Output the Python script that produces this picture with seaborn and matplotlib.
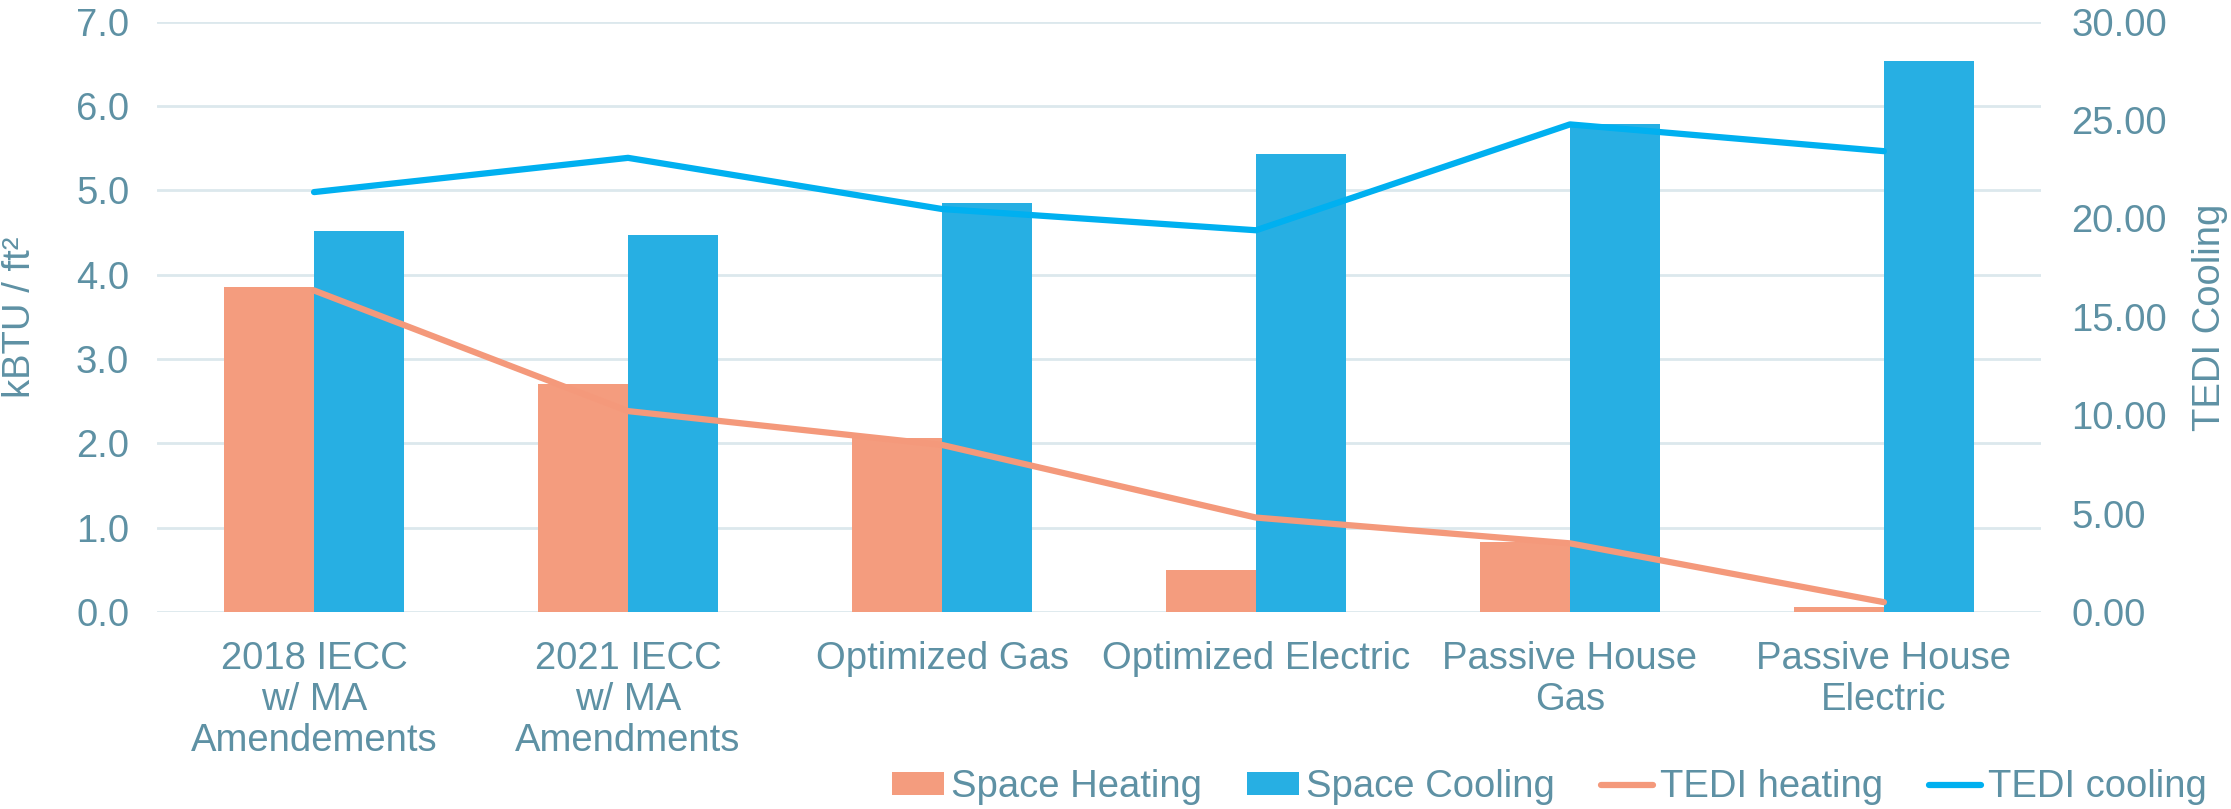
import numpy as np
import pandas as pd
import seaborn as sns
import matplotlib.pyplot as plt

# data
scenarios = ["2018 IECC\nw/ MA\nAmendements", "2021 IECC\nw/ MA\nAmendments",
             "Optimized Gas", "Optimized Electric", "Passive House\nGas", "Passive House\nElectric"]
space_heating = [3.85, 2.70, 2.06, 0.50, 0.83, 0.06]
space_cooling = [4.52, 4.47, 4.85, 5.43, 5.79, 6.53]
tedi_heating = [16.34, 10.21, 8.49, 4.80, 3.49, 0.50]
tedi_cooling = [21.34, 23.08, 20.48, 19.40, 24.78, 23.42]

txt = "#5E91A4"
grid_c = "#DCE8ED"
c_heat = "#F49C7E"
c_cool = "#27AFE3"
c_heat_line = "#F4997B"
c_cool_line = "#00B0F0"
fs = 27.5

sns.set_theme(style="white")
plt.rcParams['font.family'] = ['Liberation Sans', 'DejaVu Sans']

df = pd.DataFrame({
    "scenario": scenarios * 2,
    "value": space_heating + space_cooling,
    "type": ["Space Heating"] * 6 + ["Space Cooling"] * 6,
})

fig = plt.figure(figsize=(22.31, 8.09), dpi=100)
ax = fig.add_axes([0.0704, 0.2435, 0.8444, 0.7297])

sns.barplot(data=df, x="scenario", y="value", hue="type", width=0.575,
            palette=[c_heat, c_cool], saturation=1, linewidth=0, ax=ax, zorder=2)
ax.set_xlim(-0.5, 5.5)
ax.set_ylim(0, 7)
ax.set_yticks(np.arange(0, 8, 1))
ax.set_yticklabels([f"{v:.1f}" for v in range(8)])
ax.yaxis.grid(True, color=grid_c, linewidth=2)
ax.set_axisbelow(True)
for s in ax.spines.values():
    s.set_visible(False)
ax.tick_params(axis='y', length=0, pad=20, labelsize=fs, labelcolor=txt)
ax.tick_params(axis='x', length=0, pad=21, labelsize=fs, labelcolor=txt)
for lab in ax.get_xticklabels():
    lab.set_linespacing(1.17)
ax.set_xlabel("")
ax.set_ylabel("")
fig.text(0.009, 0.608, "kBTU / ft²", rotation=90, ha="center", va="center",
         fontsize=fs, color=txt)

ax2 = ax.twinx()
x = np.arange(len(scenarios))
sns.lineplot(x=x, y=tedi_heating, color=c_heat_line, linewidth=4.5, ax=ax2, label="TEDI heating")
sns.lineplot(x=x, y=tedi_cooling, color=c_cool_line, linewidth=4.5, ax=ax2, label="TEDI cooling")
ax2.set_ylim(0, 30)
ax2.set_yticks(np.arange(0, 31, 5))
ax2.set_yticklabels([f"{v:.2f}" for v in range(0, 31, 5)])
for s in ax2.spines.values():
    s.set_visible(False)
ax2.tick_params(axis='y', length=0, pad=22, labelsize=fs, labelcolor=txt)
ax2.set_ylabel("")
fig.text(0.9906, 0.608, "TEDI Cooling", rotation=90, ha="center", va="center",
         fontsize=fs, color=txt)
ax2.grid(False)

h1, l1 = ax.get_legend_handles_labels()
h2, l2 = ax2.get_legend_handles_labels()
ax.legend_.remove()
ax2.legend_.remove()
fig.legend(h1 + h2, l1 + l2, loc="center right", bbox_to_anchor=(0.989, 0.027), ncol=4,
           frameon=False, fontsize=fs, labelcolor=txt, handlelength=1.36, handleheight=0.55,
           handletextpad=0.18, columnspacing=1.2, borderaxespad=0, borderpad=0)

fig.savefig("out.png", dpi=100)
